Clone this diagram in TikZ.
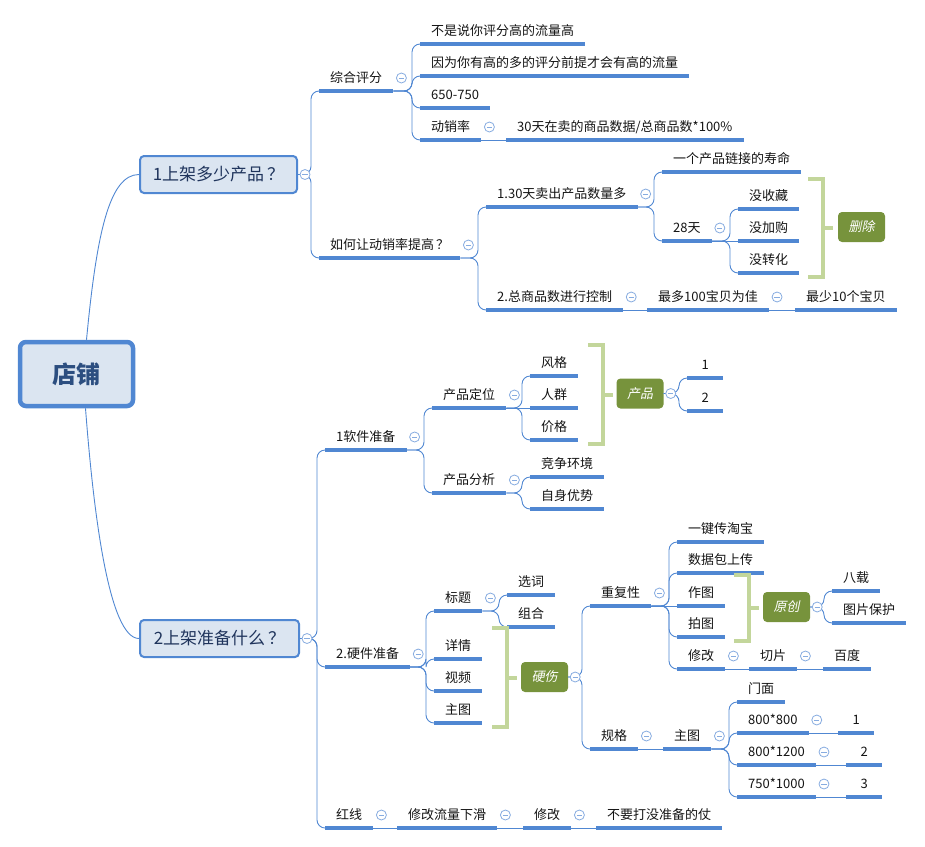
\documentclass[tikz,border=0pt]{standalone}
\usepackage{fontspec}
\newfontfamily\cjk{Noto Sans CJK SC}
\newfontfamily\cjkit{Noto Sans CJK SC}[FakeSlant=0.2]
\definecolor{lineblue}{RGB}{80,135,210}
\definecolor{foldblue}{RGB}{135,172,224}
\definecolor{boxfill}{RGB}{219,229,241}
\definecolor{navy}{RGB}{31,52,92}
\definecolor{rootblue}{RGB}{44,78,128}
\definecolor{sumgreen}{RGB}{119,147,60}
\definecolor{brkgreen}{RGB}{195,214,155}
\definecolor{leaftext}{RGB}{20,20,20}

\tikzset{
  topic/.style={anchor=south west, inner xsep=11pt, inner ysep=4pt,
    text height=10pt, text depth=4pt, minimum width=36pt, text=leaftext,
    font=\cjk\fontsize{13}{15}\selectfont},
  uline/.style={draw=lineblue, line width=3.2pt},
  link/.style={draw=lineblue, line width=0.9pt, rounded corners=8pt},
  fold/.style={circle, draw=foldblue, line width=0.8pt, fill=white,
    minimum size=10pt, inner sep=0pt,
    path picture={\draw[foldblue, line width=0.8pt]
      ([xshift=-2.6pt]path picture bounding box.center) --
      ([xshift=2.6pt]path picture bounding box.center);}},
  rootbox/.style={draw=lineblue, line width=4.5pt, fill=boxfill, rounded corners=6pt,
    minimum width=113pt, minimum height=64pt, text=rootblue,
    font=\cjk\bfseries\fontsize{24}{27}\selectfont},
  mainbox/.style={draw=lineblue, line width=2pt, fill=boxfill, rounded corners=4pt,
    minimum height=37pt, text=navy, font=\cjk\fontsize{17}{19}\selectfont},
  sumbox/.style={fill=sumgreen, rounded corners=4pt, minimum width=47pt,
    minimum height=30pt, inner sep=0pt, text=white,
    font=\cjkit\fontsize{13}{15}\selectfont},
  brk/.style={draw=brkgreen, line width=4pt},
}

\begin{document}
\begin{tikzpicture}[x=1pt,y=-1pt]
  \useasboundingbox (0,0) rectangle (925,846);

  % --- central topic and the two main branches ---
  \node[rootbox] (root) at (76.5,374) {店铺};
  \node[mainbox, minimum width=157pt] (m1) at (218.5,174.5) {1上架多少产品\kern3pt？};
  \node[mainbox, minimum width=159pt] (m2) at (219.5,638.5) {2上架准备什么\kern3pt？};

  % --- 1上架多少产品？ ---
  \node[topic] (zhpf) at (319,91)  {综合评分};
  \node[topic] (tsdx) at (319,258) {如何让动销率提高\kern2pt？};

  \node[topic] (a1) at (420,44)  {不是说你评分高的流量高};
  \node[topic] (a2) at (420,76)  {因为你有高的多的评分前提才会有高的流量};
  \node[topic] (a3) at (420,108) {650-750};
  \node[topic] (a4) at (420,140) {动销率};
  \node[topic] (a5) at (506,140) {30天在卖的商品数据/总商品数*100\%};

  \node[topic] (b1) at (486,207) {1.30天卖出产品数量多};
  \node[topic] (b2) at (486,310) {2.总商品数进行控制};
  \node[topic] (b3) at (647,310) {最多100宝贝为佳};
  \node[topic] (b4) at (795,310) {最少10个宝贝};

  \node[topic] (c1) at (662,172) {一个产品链接的寿命};
  \node[topic] (c2) at (662,241) {28天};
  \node[topic] (d1) at (738,209) {没收藏};
  \node[topic] (d2) at (738,241) {没加购};
  \node[topic] (d3) at (738,273) {没转化};
  \node[sumbox] (sc) at (861.5,227) {删除};

  % --- 2上架准备什么？ ---
  \node[topic] (rj) at (325,450) {1软件准备};
  \node[topic] (yj) at (325,667) {2.硬件准备};
  \node[topic] (hx) at (325,828) {红线};

  \node[topic] (cpdw) at (432,408) {产品定位};
  \node[topic] (cpfx) at (432,493) {产品分析};
  \node[topic] (fg) at (530,376) {风格};
  \node[topic] (rq) at (530,408) {人群};
  \node[topic] (jg) at (530,440) {价格};
  \node[sumbox] (cp) at (640,393.5) {产品};
  \node[topic] (p1) at (687,378) {1};
  \node[topic] (p2) at (687,411) {2};
  \node[topic] (jz) at (530,477) {竞争环境};
  \node[topic] (zs) at (530,509) {自身优势};

  \node[topic] (bt) at (434,611) {标题};
  \node[topic] (xq) at (434,659) {详情};
  \node[topic] (sp) at (434,691) {视频};
  \node[topic] (zt) at (434,723) {主图};
  \node[topic] (xc) at (507,595) {选词};
  \node[topic] (zh) at (507,627) {组合};
  \node[sumbox] (ys) at (544.5,677) {硬伤};

  \node[topic] (cfx) at (590,606) {重复性};
  \node[topic] (gg)  at (590,749) {规格};
  \node[topic] (e1) at (677,542) {一键传淘宝};
  \node[topic] (e2) at (677,573) {数据包上传};
  \node[topic] (e3) at (677,606) {作图};
  \node[topic] (e4) at (677,637) {拍图};
  \node[topic] (e5) at (677,669) {修改};
  \node[topic] (qp) at (749,669) {切片};
  \node[topic] (bd) at (823,669) {百度};
  \node[sumbox] (yc) at (786.5,607) {原创};
  \node[topic] (f1) at (832,591) {八载};
  \node[topic] (f2) at (832,623) {图片保护};

  \node[topic] (zt2) at (663,749) {主图};
  \node[topic] (g1) at (737,702) {门面};
  \node[topic] (g2) at (737,733) {800*800};
  \node[topic] (g3) at (737,765) {800*1200};
  \node[topic] (g4) at (737,797) {750*1000};
  \node[topic] (n1) at (838,733) {1};
  \node[topic] (n2) at (846,765) {2};
  \node[topic] (n3) at (846,797) {3};

  \node[topic] (xg)   at (397,828) {修改流量下滑};
  \node[topic] (xg2)  at (523,828) {修改};
  \node[topic] (bybz) at (596,828) {不要打没准备的仗};

  % --- connectors ---
  \draw[link] ([xshift=10pt]root.north) .. controls +(10,-105) and +(-30,0) .. (m1.west);
  \draw[link] ([xshift=9pt]root.south) .. controls +(8,105) and +(-30,0) .. (m2.west);

  \foreach \p/\c in {m1/zhpf, m1/tsdx, m2/rj, m2/yj, m2/hx, cp/p1, cp/p2,
                     ys/cfx, ys/gg, yc/f1, yc/f2}
    \draw[link] (\p.east) -| ([xshift=-8pt]\c.south west) -- (\c.south west);

  \foreach \p/\c in {zhpf/a1, zhpf/a2, zhpf/a3, zhpf/a4, tsdx/b1, tsdx/b2,
                     b1/c1, b1/c2, c2/d1, c2/d3, rj/cpdw, rj/cpfx, cpdw/fg, cpdw/jg,
                     cpfx/jz, cpfx/zs, yj/bt, yj/xq, yj/sp, yj/zt, bt/xc, bt/zh,
                     cfx/e1, cfx/e2, cfx/e4, cfx/e5, zt2/g1, zt2/g2, zt2/g3, zt2/g4}
    \draw[link] (\p.south east) -| ([xshift=-8pt]\c.south west) -- (\c.south west);

  \foreach \p/\c in {a4/a5, b2/b3, b3/b4, c2/d2, cpdw/rq, cfx/e3, e5/qp, qp/bd,
                     gg/zt2, g2/n1, g3/n2, g4/n3, hx/xg, xg/xg2, xg2/bybz}
    \draw[link] (\p.south east) -- (\c.south west);

  % --- underlines of the topics ---
  \foreach \n in {zhpf,tsdx,a1,a2,a3,a4,a5,b1,b2,b3,b4,c1,c2,d1,d2,d3,
                  rj,yj,hx,cpdw,cpfx,fg,rq,jg,p1,p2,jz,zs,bt,xq,sp,zt,xc,zh,
                  cfx,gg,e1,e2,e3,e4,e5,qp,bd,f1,f2,zt2,g1,g2,g3,g4,n1,n2,n3,
                  xg,xg2,bybz}
    \draw[uline] (\n.south west) -- (\n.south east);

  % --- summary brackets ---
  \foreach \xa/\ya/\yb in {808/179/277, 588/345/444, 492/628/727, 734/575/641} {
    \draw[brk] (\xa,\ya) -- ({\xa+15},\ya) -- ({\xa+15},\yb) -- (\xa,\yb);
    \draw[brk] ({\xa+15},{(\ya+\yb)/2}) -- ({\xa+25},{(\ya+\yb)/2});
  }

  % --- collapse markers ---
  \foreach \n in {zhpf,tsdx,a4,b1,b2,b3,c2,rj,yj,cpdw,cpfx,bt,cfx,gg,zt2,
                  e5,qp,g2,g3,g4,hx,xg,xg2}
    \node[fold] (f-\n) at ([xshift=8pt,yshift=13pt]\n.south east) {};
  \foreach \n in {m1,m2,cp,ys,yc}
    \node[fold] (f-\n) at ([xshift=7pt]\n.east) {};

\end{tikzpicture}
\end{document}
